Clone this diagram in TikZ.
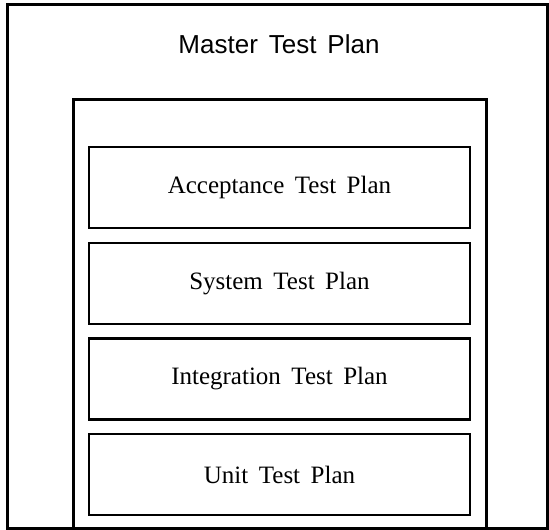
\documentclass[tikz,border=0pt]{standalone}
\usepackage{fontspec}
\setmainfont{Liberation Serif}
\newfontfamily\mastersans{Liberation Sans}
\newcommand{\widespaces}{\spaceskip=0.42em\relax}
\begin{document}
\begin{tikzpicture}[x=1pt,y=-1pt,
  frame/.style={draw=black,line width=3pt},
  planbox/.style={draw=black,line width=2.8pt,minimum width=381pt,minimum height=81pt,inner sep=0pt,font=\fontsize{25}{28}\selectfont},
  titletext/.style={font=\mastersans\fontsize{26}{29}\selectfont}]
\useasboundingbox (0,0) rectangle (549,530);
\node[frame,minimum width=540pt,minimum height=524pt,inner sep=0pt] (outer) at (277,266) {};
\node[titletext] (master) at (279,44) {\widespaces Master Test Plan};
\draw[frame] (73,528) -- (73,99) -- (486,99) -- (486,528);
\node[planbox] (acc) at (279.5,187.5) {\widespaces Acceptance Test Plan};
\node[planbox] (sys) at (279.5,283.5) {\widespaces System Test Plan};
\node[planbox] (int) at (279.5,379) {\widespaces Integration Test Plan};
\node[planbox] (unit) at (279.5,474.5) {\widespaces Unit Test Plan};
\end{tikzpicture}
\end{document}
